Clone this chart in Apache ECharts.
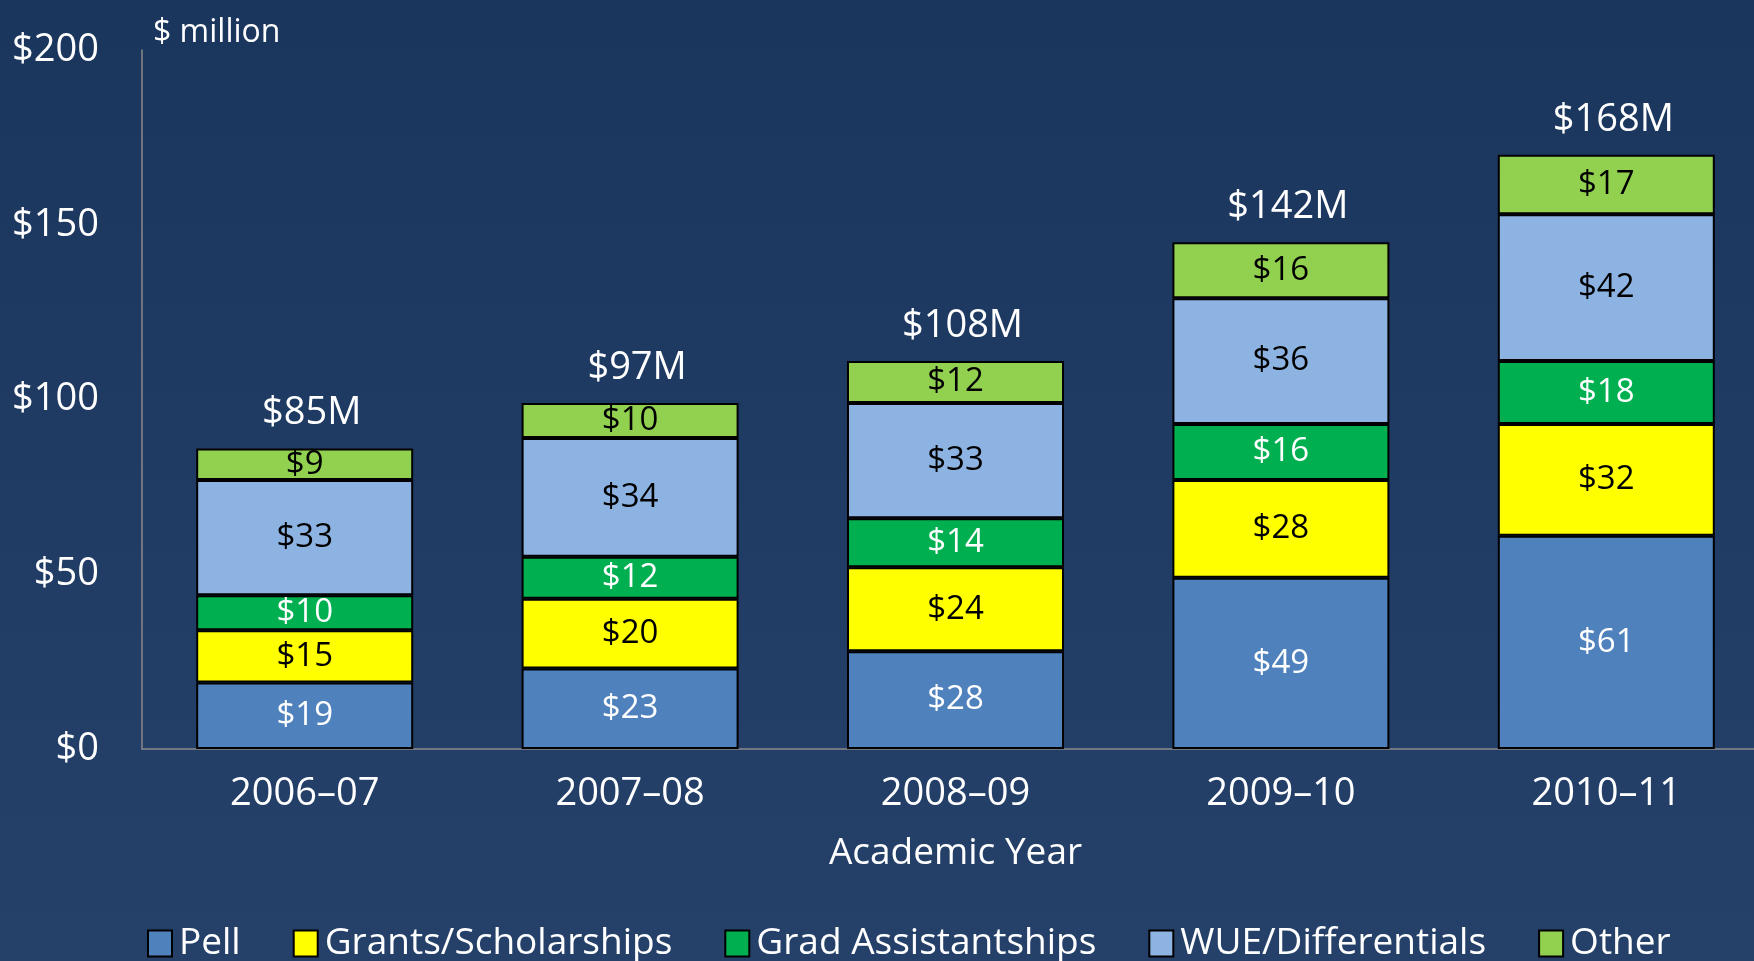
<!DOCTYPE html>
<html>
<head>
<meta charset="utf-8">
<script src="https://cdn.jsdelivr.net/npm/echarts@6/dist/echarts.min.js"></script>
<style>
  html, body { margin: 0; padding: 0; }
  #main { width: 1754px; height: 961px; }
</style>
</head>
<body>
<div id="main"></div>
<script>
// data
const years = ['2006–07', '2007–08', '2008–09', '2009–10', '2010–11'];
const pell = [19, 23, 28, 49, 61];
const grants = [15, 20, 24, 28, 32];
const gradAssist = [10, 12, 14, 16, 18];
const wue = [33, 34, 33, 36, 42];
const other = [9, 10, 12, 16, 17];
const totals = ['$85M', '$97M', '$108M', '$142M', '$168M'];

const FONT = '"Open Sans", sans-serif';

const chart = echarts.init(document.getElementById('main'));

function seg(name, data, color, textColor) {
  return {
    name: name,
    type: 'bar',
    stack: 'aid',
    data: data,
    barWidth: 217,
    itemStyle: { color: color, borderColor: '#000', borderWidth: 2 },
    label: {
      show: true,
      position: 'inside',
      formatter: p => '$' + p.value,
      color: textColor,
      fontFamily: FONT,
      fontSize: 33
    }
  };
}

const option = {
  backgroundColor: {
    type: 'linear', x: 0, y: 0, x2: 0, y2: 1,
    colorStops: [
      { offset: 0, color: '#1b365d' },
      { offset: 1, color: '#25416a' }
    ]
  },
  textStyle: { fontFamily: FONT },
  title: {
    text: '$ million',
    left: 148,
    top: 12,
    textStyle: { color: '#fff', fontSize: 32, fontWeight: 'normal', fontFamily: FONT }
  },
  // plot runs past the right edge of the picture
  grid: { left: 142, top: 50, width: 1627, bottom: 212, containLabel: false, outerBoundsMode: 'none' },
  legend: {
    data: ['Pell', 'Grants/Scholarships', 'Grad Assistantships', 'WUE/Differentials', 'Other'],
    left: 142,
    top: 920,
    icon: 'rect',
    itemWidth: 24,
    itemHeight: 26,
    itemGap: 52,
    textStyle: { color: '#fff', fontSize: 37, fontFamily: FONT, padding: [0, 0, 0, 2] }
  },
  xAxis: {
    type: 'category',
    data: years,
    name: 'Academic Year',
    nameLocation: 'middle',
    nameGap: 86,
    nameTextStyle: { color: '#fff', fontSize: 37, fontFamily: FONT, verticalAlign: 'top' },
    axisLine: { lineStyle: { color: '#8a8a8a', width: 1.5 } },
    axisTick: { show: false },
    axisLabel: { color: '#fff', fontSize: 38, fontFamily: FONT, margin: 26 }
  },
  yAxis: {
    type: 'value',
    min: 0,
    max: 200,
    interval: 50,
    splitLine: { show: false },
    axisLine: { show: true, lineStyle: { color: '#8a8a8a', width: 1.5 } },
    axisTick: { show: false },
    axisLabel: {
      color: '#fff', fontSize: 38, fontFamily: FONT, margin: 43,
      formatter: v => '$' + v
    }
  },
  series: [
    seg('Pell', pell, '#4f81bd', '#fff'),
    seg('Grants/Scholarships', grants, '#ffff00', '#000'),
    seg('Grad Assistantships', gradAssist, '#00b050', '#fff'),
    seg('WUE/Differentials', wue, '#8db3e2', '#000'),
    seg('Other', other, '#92d050', '#000'),
    {
      name: 'Total',
      type: 'bar',
      stack: 'aid',
      data: years.map(() => 0),
      barWidth: 217,
      itemStyle: { color: 'transparent', borderWidth: 0 },
      label: {
        show: true,
        position: 'top',
        distance: 16,
        offset: [7, 0],
        formatter: p => totals[p.dataIndex],
        color: '#fff',
        fontFamily: FONT,
        fontSize: 38
      }
    }
  ]
};

option && chart.setOption(option);
</script>
</body>
</html>
